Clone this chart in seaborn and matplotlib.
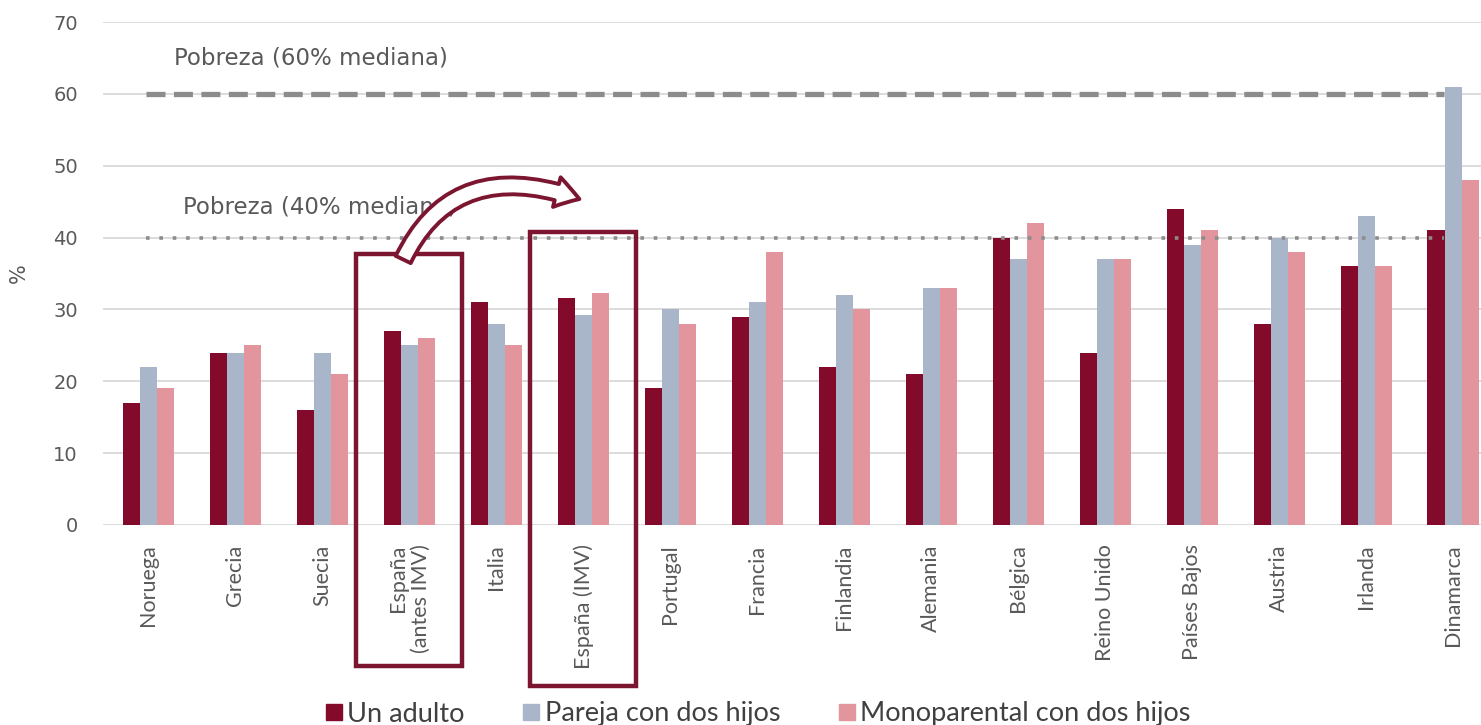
import matplotlib
matplotlib.use("Agg")
import matplotlib.pyplot as plt
import seaborn as sns
import pandas as pd
from matplotlib.patches import Rectangle, FancyArrowPatch, ArrowStyle
from matplotlib.lines import Line2D

countries = ["Noruega", "Grecia", "Suecia", "España\n(antes IMV)", "Italia",
             "España (IMV)", "Portugal", "Francia", "Finlandia", "Alemania",
             "Bélgica", "Reino Unido", "Países Bajos", "Austria", "Irlanda", "Dinamarca"]
un_adulto = [17, 24, 16, 27, 31, 31.6, 19, 29, 22, 21, 40, 24, 44, 28, 36, 41]
pareja = [22, 24, 24, 25, 28, 29.2, 30, 31, 32, 33, 37, 37, 39, 40, 43, 61]
monoparental = [19, 25, 21, 26, 25, 32.3, 28, 38, 30, 33, 42, 37, 41, 38, 36, 48]
series = ["Un adulto", "Pareja con dos hijos", "Monoparental con dos hijos"]
colors = ["#840A2C", "#A9B5C9", "#E3959E"]
umbral_60 = 60
umbral_40 = 40
yticks = [0, 10, 20, 30, 40, 50, 60, 70]

df = pd.DataFrame({
    "pais": countries * 3,
    "valor": un_adulto + pareja + monoparental,
    "serie": [series[0]] * 16 + [series[1]] * 16 + [series[2]] * 16,
})

sns.set_theme(style="white")
plt.rcParams["font.family"] = ["DejaVu Sans"]

W, H = 1481, 725
fig = plt.figure(figsize=(W / 100, H / 100), dpi=100)
ax = fig.add_axes([103 / W, 1 - 525 / H, 1 - 103 / W, (525 - 22) / H])

sns.barplot(data=df, x="pais", y="valor", hue="serie", palette=colors,
            width=0.59, gap=0, saturation=1, ax=ax, legend=False, zorder=3,
            linewidth=0, edgecolor="none")

ax.set_ylim(0, 70)
ax.set_xlim(-0.52, 15.32)
ax.set_yticks(yticks)
for y in yticks:
    ax.axhline(y, color="#D9D9D9", lw=1.3, zorder=1)
for s in ax.spines.values():
    s.set_visible(False)

ax.tick_params(axis="y", length=0, pad=18, labelsize=14, labelcolor="#595959")
ax.tick_params(axis="x", length=0, pad=14)
ax.set_xticks(range(len(countries)))
ax.set_xticklabels(countries, rotation=90, family="Lato", fontsize=15.5,
                   color="#595959", va="top", ha="center", multialignment="right")
ax.set_xlabel("")
ax.set_ylabel("%", fontsize=15, color="#595959")
ax.yaxis.set_label_coords(-0.054, 0.5)

# Threshold lines
ax.hlines(umbral_60, -0.02, 14.9, colors="#8C8C8C", lw=3.8,
          linestyles=(0, (3.6, 1.6)), zorder=4)
ax.hlines(umbral_40, -0.02, 14.9, colors="#8C8C8C", lw=2.6,
          linestyles=(0, (1, 2.7)), zorder=4)
ax.text(0.30, 65.0, "Pobreza (60% mediana)", fontsize=16.5, color="#595959",
        ha="left", va="center")
ax.text(0.40, 44.3, "Pobreza (40% mediana)", fontsize=16.5, color="#595959",
        ha="left", va="center")

# Highlight boxes for Spain
box_color = "#7B1530"
for idx, top, bottom in [(3, 37.7, -19.6), (5, 40.8, -22.4)]:
    r = Rectangle((idx - 0.61, bottom), 1.22, top - bottom, fill=False,
                  edgecolor=box_color, lw=3.2, clip_on=False, zorder=6)
    ax.add_patch(r)

# Curved arrow
arr = FancyArrowPatch((402 / W, 1 - 262 / H), (582 / W, 1 - 200 / H),
                      transform=fig.transFigure,
                      connectionstyle="angle3,angleA=65,angleB=-20",
                      arrowstyle=ArrowStyle.Simple(head_length=17, head_width=22, tail_width=12),
                      mutation_scale=1, facecolor="white", edgecolor=box_color,
                      lw=2.8, zorder=10)
fig.add_artist(arr)

# Legend
handles = [Line2D([0], [0], marker="s", color="none", markerfacecolor=c,
                  markeredgecolor=c, markersize=12) for c in colors]
fig.legend(handles, series, loc="center", bbox_to_anchor=(756 / W, 1 - 714 / H),
           ncol=3, frameon=False, prop={"family": "Lato", "size": 19.5},
           labelcolor="#404040", handletextpad=0.05, columnspacing=2.0,
           handlelength=0.9)

fig.savefig("out.png", dpi=100)
